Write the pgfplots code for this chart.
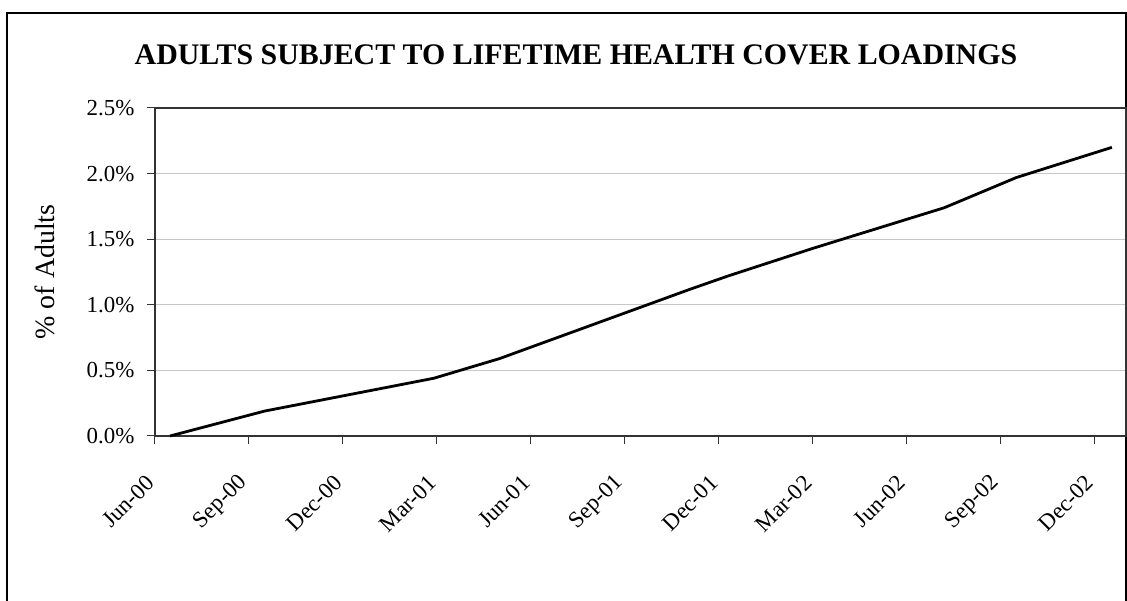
\documentclass[border=0pt]{standalone}
\usepackage{fontspec}
\setmainfont{Liberation Serif}
\usepackage{pgfplots}
\pgfplotsset{compat=1.18}
\newcommand\tickfont{\fontsize{23}{25}\selectfont}
\begin{document}
\begin{tikzpicture}[x=1bp,y=1bp]
\useasboundingbox (-155,-165) rectangle (972,436);
\draw[line width=1.3bp] (-148,-175) -- (-148,423) -- (971,423) -- (971,-175);
\begin{axis}[at={(0,0)}, anchor=south west, scale only axis,
  width=971bp, height=328bp,
  xmin=0, xmax=31, ymin=0, ymax=2.5,
  xtick={0,3,...,30},
  xticklabels={Jun-00,Sep-00,Dec-00,Mar-01,Jun-01,Sep-01,Dec-01,Mar-02,Jun-02,Sep-02,Dec-02},
  ytick={0,0.5,1,1.5,2,2.5},
  yticklabels={0.0\%,0.5\%,1.0\%,1.5\%,2.0\%,2.5\%},
  tick align=outside, major tick length=8bp, tick pos=left,
  ymajorgrids, grid style={color=black!22, line width=1bp},
  axis line style={draw=black!80, line width=1.3bp},
  every tick/.style={black!80, line width=1bp},
  xticklabel style={font=\tickfont, anchor=east, xshift=-2.5bp, yshift=-33bp, rotate=45},
  yticklabel style={font=\tickfont, xshift=-9bp},
  clip=false]
\addplot[black, line width=2.8bp, line join=round] coordinates {
(0.48,0) (3.5,0.19) (8.9,0.44) (11.0,0.59) (17.1,1.12) (18.3,1.22) (21.0,1.43) (25.2,1.74) (27.5,1.97) (30.55,2.20)
};
\end{axis}
\node[font=\bfseries\fontsize{30}{36}\selectfont] at (421,381) {ADULTS SUBJECT TO LIFETIME HEALTH COVER LOADINGS};
\node[rotate=90, font=\fontsize{28}{30}\selectfont] at (-110,164) {\% of Adults};
\end{tikzpicture}
\end{document}
